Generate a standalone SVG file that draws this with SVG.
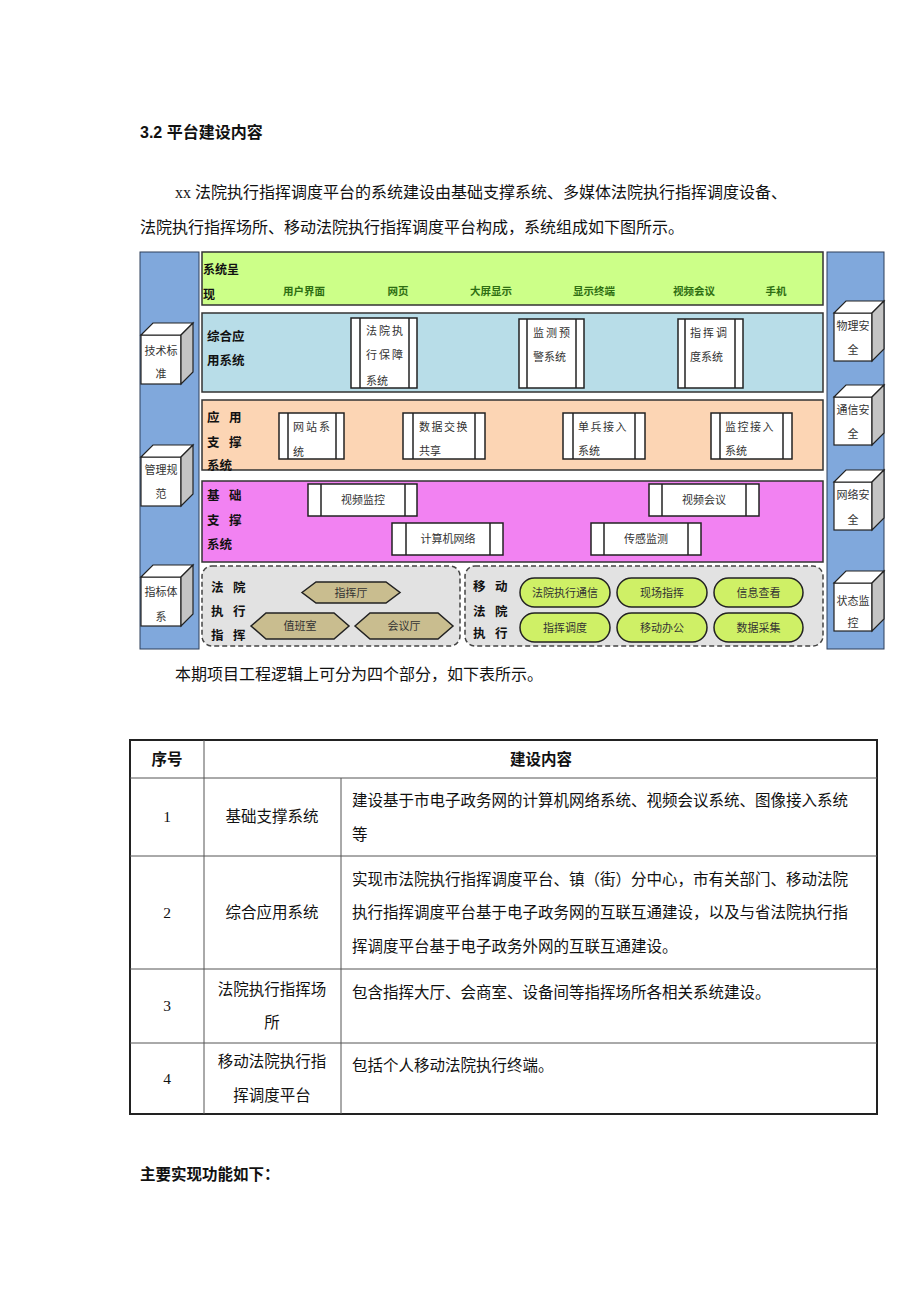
<svg xmlns="http://www.w3.org/2000/svg" width="920" height="1302" viewBox="0 0 920 1302">
<style>
text{font-family:"Liberation Serif","Noto Sans CJK SC",serif;fill:#111}
.p{font-size:16px}
.h{font-size:16px;font-weight:bold;font-family:"Liberation Sans","Noto Sans CJK SC",sans-serif}
.lab{font-size:12.5px;font-weight:bold;font-family:"Noto Sans CJK SC",sans-serif}
.g{font-size:10.5px;font-weight:bold;fill:#2e6e12;font-family:"Noto Sans CJK SC",sans-serif;text-anchor:middle}
.b{font-size:11px;letter-spacing:2px;font-family:"Noto Sans CJK SC",sans-serif;fill:#333}
.c{font-size:11px;font-family:"Noto Sans CJK SC",sans-serif;fill:#333;text-anchor:middle}
.layer{stroke:#333;stroke-width:1.5}
.box{fill:#fff;stroke:#222;stroke-width:1.5}
.bar{stroke:#222;stroke-width:1.5}
.col{fill:#80a8dc;stroke:#2c3e5a;stroke-width:1}
.dash{fill:#e2e2e2;stroke:#444;stroke-width:1.5;stroke-dasharray:5 3}
.hex{fill:#c9bd8f;stroke:#222;stroke-width:1.5}
.pill{fill:#cff066;stroke:#222;stroke-width:1.5}
.t{font-size:15.5px;font-family:"Liberation Serif","Noto Sans CJK SC",serif;fill:#111}
.tc{text-anchor:middle}
.tl{stroke:#555;stroke-width:1}
</style>
<defs>
<g id="cubeL">
<rect x="0" y="0" width="40" height="49" fill="#fff" stroke="#222" stroke-width="1.2"/>
<polygon points="0,0 12,-12 52,-12 40,0" fill="#fff" stroke="#222" stroke-width="1.2"/>
<polygon points="40,0 52,-12 52,37 40,49" fill="#c4c4c4" stroke="#222" stroke-width="1.2"/>
</g>
<g id="cubeR">
<rect x="0" y="0" width="38" height="48" fill="#fff" stroke="#222" stroke-width="1.2"/>
<polygon points="0,0 12,-12 50,-12 38,0" fill="#fff" stroke="#222" stroke-width="1.2"/>
<polygon points="38,0 50,-12 50,36 38,48" fill="#c4c4c4" stroke="#222" stroke-width="1.2"/>
</g>
</defs>

<g id="heading">
<text class="h" x="140" y="138">3.2 平台建设内容</text>
<text class="p" x="175" y="198">xx 法院执行指挥调度平台的系统建设由基础支撑系统、多媒体法院执行指挥调度设备、</text>
<text class="p" x="140" y="233">法院执行指挥场所、移动法院执行指挥调度平台构成，系统组成如下图所示。</text>
</g>

<g id="left-column">
<rect class="col" x="140" y="252" width="59" height="397"/>
</g>
<g id="right-column">
<rect class="col" x="827" y="252" width="57" height="397"/>
</g>

<g id="layer-present">
<rect class="layer" x="202" y="252" width="621" height="53" fill="#ccff88"/>
<text class="lab" x="203" y="274" style="font-size:12px">系统呈</text>
<text class="lab" x="203" y="299" style="font-size:12px">现</text>
<text class="g" x="304" y="295">用户界面</text>
<text class="g" x="398" y="295">网页</text>
<text class="g" x="491" y="295">大屏显示</text>
<text class="g" x="594" y="295">显示终端</text>
<text class="g" x="694" y="295">视频会议</text>
<text class="g" x="776" y="295">手机</text>
</g>

<g id="layer-app">
<rect class="layer" x="202" y="313" width="621" height="79" fill="#b8dde8"/>
<text class="lab" x="207" y="341">综合应</text>
<text class="lab" x="207" y="365">用系统</text>
</g>
<g id="node-baozhang">
<rect class="box" x="351" y="318" width="66" height="70"/>
<line class="bar" x1="360" y1="318" x2="360" y2="388"/><line class="bar" x1="409" y1="318" x2="409" y2="388"/>
<text class="b" x="366" y="335">法院执</text>
<text class="b" x="366" y="359">行保障</text>
<text class="b" x="366" y="385" style="letter-spacing:0">系统</text>
</g>
<g id="node-jiance">
<rect class="box" x="519" y="319" width="65" height="69"/>
<line class="bar" x1="527" y1="319" x2="527" y2="388"/><line class="bar" x1="576" y1="319" x2="576" y2="388"/>
<text class="b" x="533" y="337">监测预</text>
<text class="b" x="533" y="361" style="letter-spacing:0">警系统</text>
</g>
<g id="node-diaodu">
<rect class="box" x="678" y="319" width="65" height="69"/>
<line class="bar" x1="685" y1="319" x2="685" y2="388"/><line class="bar" x1="735" y1="319" x2="735" y2="388"/>
<text class="b" x="690" y="337">指挥调</text>
<text class="b" x="690" y="361" style="letter-spacing:0">度系统</text>
</g>

<g id="layer-support">
<rect class="layer" x="202" y="400" width="621" height="70" fill="#fcd5b4"/>
<text class="lab" x="207" y="422">应</text><text class="lab" x="229" y="422">用</text>
<text class="lab" x="207" y="447">支</text><text class="lab" x="229" y="447">撑</text>
<text class="lab" x="207" y="470">系统</text>
</g>
<g id="node-wangzhan">
<rect class="box" x="279" y="413" width="65" height="46"/>
<line class="bar" x1="288" y1="413" x2="288" y2="459"/><line class="bar" x1="336" y1="413" x2="336" y2="459"/>
<text class="b" x="293" y="431">网站系</text>
<text class="b" x="293" y="456">统</text>
</g>
<g id="node-shuju">
<rect class="box" x="403" y="413" width="82" height="46"/>
<line class="bar" x1="413" y1="413" x2="413" y2="459"/><line class="bar" x1="475" y1="413" x2="475" y2="459"/>
<text class="b" x="419" y="431" style="letter-spacing:1.5px">数据交换</text>
<text class="b" x="419" y="455" style="letter-spacing:0">共享</text>
</g>
<g id="node-danbing">
<rect class="box" x="563" y="413" width="82" height="46"/>
<line class="bar" x1="573" y1="413" x2="573" y2="459"/><line class="bar" x1="635" y1="413" x2="635" y2="459"/>
<text class="b" x="578" y="431" style="letter-spacing:1.5px">单兵接入</text>
<text class="b" x="578" y="455" style="letter-spacing:0">系统</text>
</g>
<g id="node-jiankong">
<rect class="box" x="711" y="413" width="81" height="46"/>
<line class="bar" x1="720" y1="413" x2="720" y2="459"/><line class="bar" x1="783" y1="413" x2="783" y2="459"/>
<text class="b" x="725" y="431" style="letter-spacing:1.5px">监控接入</text>
<text class="b" x="725" y="455" style="letter-spacing:0">系统</text>
</g>

<g id="layer-base">
<rect class="layer" x="202" y="481" width="621" height="81" fill="#f282f2"/>
<text class="lab" x="207" y="500">基</text><text class="lab" x="229" y="500">础</text>
<text class="lab" x="207" y="525">支</text><text class="lab" x="229" y="525">撑</text>
<text class="lab" x="207" y="549">系统</text>
</g>
<g id="node-shipinjiankong">
<rect class="box" x="308" y="484" width="109" height="32"/>
<line class="bar" x1="321" y1="484" x2="321" y2="516"/><line class="bar" x1="405" y1="484" x2="405" y2="516"/>
<text class="c" x="363" y="504">视频监控</text>
</g>
<g id="node-shipinhuiyi">
<rect class="box" x="649" y="484" width="110" height="32"/>
<line class="bar" x1="662" y1="484" x2="662" y2="516"/><line class="bar" x1="746" y1="484" x2="746" y2="516"/>
<text class="c" x="704" y="504">视频会议</text>
</g>
<g id="node-jisuanji">
<rect class="box" x="392" y="523" width="111" height="32"/>
<line class="bar" x1="406" y1="523" x2="406" y2="555"/><line class="bar" x1="490" y1="523" x2="490" y2="555"/>
<text class="c" x="448" y="543">计算机网络</text>
</g>
<g id="node-chuangan">
<rect class="box" x="591" y="523" width="110" height="32"/>
<line class="bar" x1="604" y1="523" x2="604" y2="555"/><line class="bar" x1="688" y1="523" x2="688" y2="555"/>
<text class="c" x="646" y="543">传感监测</text>
</g>

<g id="group-command">
<rect class="dash" x="202" y="566" width="258" height="80" rx="10"/>
<text class="lab" x="211" y="592">法</text><text class="lab" x="233" y="592">院</text>
<text class="lab" x="211" y="616">执</text><text class="lab" x="233" y="616">行</text>
<text class="lab" x="211" y="640">指</text><text class="lab" x="233" y="640">挥</text>
</g>
<g id="node-zhihuiting">
<polygon class="hex" points="302,592.5 316,582 386,582 400,592.5 386,603 316,603"/>
<text class="c" x="351" y="596.5">指挥厅</text>
</g>
<g id="node-zhibanshi">
<polygon class="hex" points="251,626 266,613 334,613 349,626 334,639 266,639"/>
<text class="c" x="300" y="630">值班室</text>
</g>
<g id="node-huiyiting">
<polygon class="hex" points="355,626 370,613 438,613 453,626 438,639 370,639"/>
<text class="c" x="404" y="630">会议厅</text>
</g>

<g id="group-mobile">
<rect class="dash" x="465" y="566" width="358" height="80" rx="10"/>
<text class="lab" x="473" y="591">移</text><text class="lab" x="495" y="591">动</text>
<text class="lab" x="473" y="616">法</text><text class="lab" x="495" y="616">院</text>
<text class="lab" x="473" y="638">执</text><text class="lab" x="495" y="638">行</text>
</g>
<g id="node-tongxin"><rect class="pill" x="520" y="578" width="90" height="29" rx="14.5"/><text class="c" x="565" y="596.5">法院执行通信</text></g>
<g id="node-xianchang"><rect class="pill" x="617" y="578" width="90" height="29" rx="14.5"/><text class="c" x="662" y="596.5">现场指挥</text></g>
<g id="node-xinxi"><rect class="pill" x="714" y="578" width="89" height="29" rx="14.5"/><text class="c" x="758.5" y="596.5">信息查看</text></g>
<g id="node-zhihuidiaodu"><rect class="pill" x="520" y="613" width="90" height="29" rx="14.5"/><text class="c" x="565" y="631.5">指挥调度</text></g>
<g id="node-yidong"><rect class="pill" x="617" y="613" width="90" height="29" rx="14.5"/><text class="c" x="662" y="631.5">移动办公</text></g>
<g id="node-caiji"><rect class="pill" x="714" y="613" width="89" height="29" rx="14.5"/><text class="c" x="758.5" y="631.5">数据采集</text></g>

<g id="cube-jishu"><use href="#cubeL" x="141" y="335"/><text class="c" x="161" y="355">技术标</text><text class="c" x="161" y="378">准</text></g>
<g id="cube-guanli"><use href="#cubeL" x="141" y="457"/><text class="c" x="161" y="474">管理规</text><text class="c" x="161" y="498">范</text></g>
<g id="cube-zhibiao"><use href="#cubeL" x="141" y="577"/><text class="c" x="161" y="596">指标体</text><text class="c" x="161" y="621">系</text></g>
<g id="cube-wuli"><use href="#cubeR" x="834" y="313"/><text class="c" x="853" y="330">物理安</text><text class="c" x="853" y="354">全</text></g>
<g id="cube-tongxin"><use href="#cubeR" x="834" y="397"/><text class="c" x="853" y="414">通信安</text><text class="c" x="853" y="438">全</text></g>
<g id="cube-wangluo"><use href="#cubeR" x="834" y="482"/><text class="c" x="853" y="499">网络安</text><text class="c" x="853" y="524">全</text></g>
<g id="cube-zhuangtai"><use href="#cubeR" x="834" y="583"/><text class="c" x="853" y="605">状态监</text><text class="c" x="853" y="627">控</text></g>

<g id="connectors"/>

<g id="text-below">
<text class="p" x="175" y="680">本期项目工程逻辑上可分为四个部分，如下表所示。</text>
</g>

<g id="table">
<rect x="130" y="740" width="747" height="374" fill="none" stroke="#222" stroke-width="2"/>
<line class="tl" x1="130" y1="778" x2="877" y2="778"/>
<line class="tl" x1="130" y1="856" x2="877" y2="856"/>
<line class="tl" x1="130" y1="969" x2="877" y2="969"/>
<line class="tl" x1="130" y1="1043" x2="877" y2="1043"/>
<line class="tl" x1="204" y1="740" x2="204" y2="1114"/>
<line class="tl" x1="341" y1="778" x2="341" y2="1114"/>
<text class="t tc" x="167" y="765" style="font-weight:bold;font-family:'Noto Sans CJK SC',sans-serif">序号</text>
<text class="t tc" x="541" y="765" style="font-weight:bold;font-family:'Noto Sans CJK SC',sans-serif">建设内容</text>
<text class="t tc" x="167" y="822">1</text>
<text class="t tc" x="272" y="822">基础支撑系统</text>
<text class="t" x="352" y="806">建设基于市电子政务网的计算机网络系统、视频会议系统、图像接入系统</text>
<text class="t" x="352" y="840">等</text>
<text class="t tc" x="167" y="918">2</text>
<text class="t tc" x="272" y="918">综合应用系统</text>
<text class="t" x="352" y="885">实现市法院执行指挥调度平台、镇（街）分中心，市有关部门、移动法院</text>
<text class="t" x="352" y="918">执行指挥调度平台基于电子政务网的互联互通建设，以及与省法院执行指</text>
<text class="t" x="352" y="952">挥调度平台基于电子政务外网的互联互通建设。</text>
<text class="t tc" x="167" y="1011">3</text>
<text class="t tc" x="272" y="995">法院执行指挥场</text>
<text class="t tc" x="272" y="1028">所</text>
<text class="t" x="352" y="998">包含指挥大厅、会商室、设备间等指挥场所各相关系统建设。</text>
<text class="t tc" x="167" y="1084">4</text>
<text class="t tc" x="272" y="1067">移动法院执行指</text>
<text class="t tc" x="272" y="1101">挥调度平台</text>
<text class="t" x="352" y="1071">包括个人移动法院执行终端。</text>
</g>

<g id="footer">
<text class="h" x="140" y="1180" style="font-size:15.5px">主要实现功能如下：</text>
</g>
</svg>
